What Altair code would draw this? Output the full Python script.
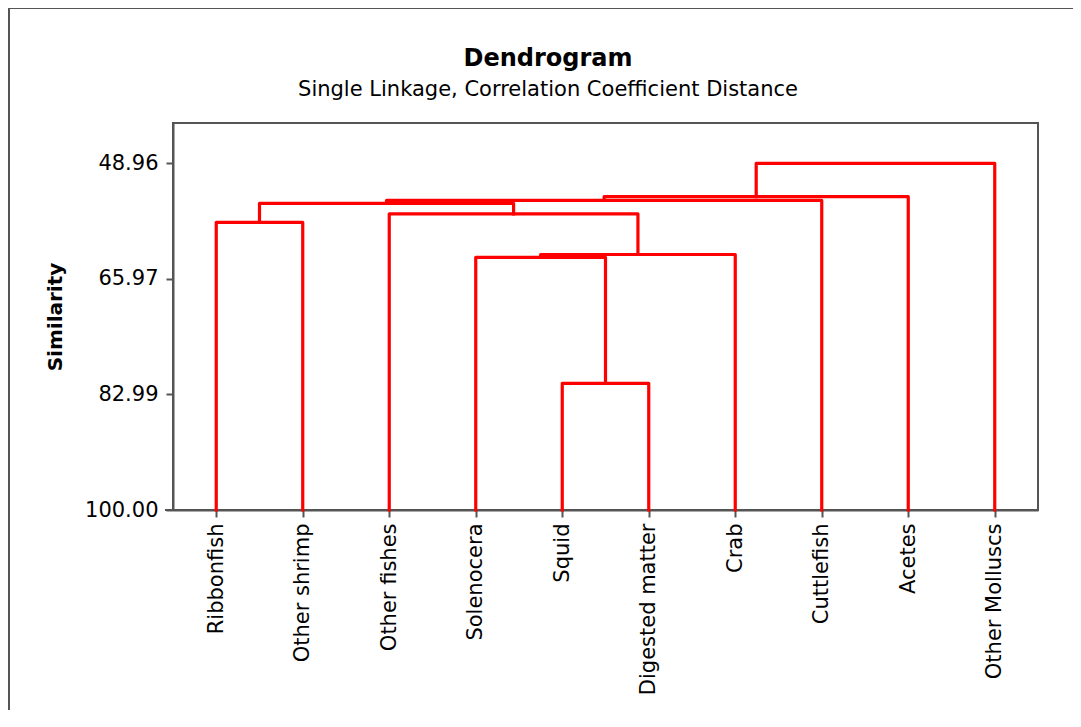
import json
import altair as alt
import pandas as pd

# ---- data ----
leaves = ["Ribbonfish", "Other shrimp", "Other fishes", "Solenocera", "Squid",
          "Digested matter", "Crab", "Cuttlefish", "Acetes", "Other Molluscs"]
# merges: new cluster ids start at 10, in this order
merge_left = [4, 3, 11, 0, 2, 13, 15, 16, 17]
merge_right = [5, 10, 6, 1, 12, 14, 7, 8, 9]
merge_sim = [81.35, 62.80, 62.39, 57.65, 56.42, 54.85, 54.43, 53.87, 48.96]
y_ticks = [48.96, 65.97, 82.99, 100.00]
title_text = "Dendrogram"
subtitle_text = "Single Linkage, Correlation Coefficient Distance"

# ---- build dendrogram path table ----
pos = {i: i + 0.5 for i in range(len(leaves))}
hgt = {i: 100.0 for i in range(len(leaves))}
rows = []
for k, (a, b, s) in enumerate(zip(merge_left, merge_right, merge_sim)):
    cid = len(leaves) + k
    pts = [(pos[a], hgt[a]), (pos[a], s), (pos[b], s), (pos[b], hgt[b])]
    for j, (x, y) in enumerate(pts):
        rows.append({"merge": k, "step": j, "x": x, "sim": y})
    pos[cid] = (pos[a] + pos[b]) / 2
    hgt[cid] = s
df = pd.DataFrame(rows)

W, H = 865, 387
FONT = "DejaVu Sans"
GRAY = "#555555"

label_expr = json.dumps(leaves) + "[floor(datum.value)]"

lines = alt.Chart(df).mark_line(
    color="#ff0000", strokeWidth=3.2, strokeJoin="round", strokeCap="square"
).encode(
    x=alt.X("x:Q", scale=alt.Scale(domain=[0, 10], nice=False, zero=False),
            axis=alt.Axis(values=[i + 0.5 for i in range(len(leaves))],
                          labelExpr=label_expr, labelAngle=270, title=None,
                          grid=False, tickSize=7, labelPadding=6,
                          labelFontSize=21, labelFont=FONT, labelColor="#000",
                          domainColor=GRAY, domainWidth=2, tickColor=GRAY,
                          tickWidth=2, labelOverlap=False)),
    y=alt.Y("sim:Q", scale=alt.Scale(domain=[43.03, 100], reverse=True, nice=False, zero=False),
            axis=alt.Axis(values=y_ticks, format=".2f", title="Similarity",
                          grid=False, tickSize=7, labelPadding=8,
                          labelFontSize=21, labelFont=FONT, labelColor="#000",
                          titleFont=FONT, titleFontSize=20, titleFontWeight="bold",
                          titleColor="#000", titleAngle=270, titleX=-118, titleY=193.5,
                          titleAlign="center", titleBaseline="middle",
                          domainColor=GRAY, domainWidth=2, tickColor=GRAY,
                          tickWidth=2, labelOverlap=False)),
    detail="merge:N",
    order=alt.Order("step:Q"),
)

one = pd.DataFrame({"a": [0]})
frame_left = alt.Chart(one).mark_rule(color=GRAY, strokeWidth=2, clip=False).encode(
    x=alt.value(-164), y=alt.value(-115), y2=alt.value(H + 200))
frame_top = alt.Chart(one).mark_rule(color=GRAY, strokeWidth=2, clip=False).encode(
    x=alt.value(-164), x2=alt.value(W + 60), y=alt.value(-115))
axis_ext = alt.Chart(one).mark_rule(color=GRAY, strokeWidth=2, clip=False).encode(
    x=alt.value(-8), x2=alt.value(0), y=alt.value(H))

title_mark = alt.Chart(pd.DataFrame({"t": [title_text]})).mark_text(
    font=FONT, fontSize=24, fontWeight="bold", color="#000",
    align="center", baseline="middle", clip=False
).encode(text="t:N", x=alt.value(375), y=alt.value(-64))
subtitle_mark = alt.Chart(pd.DataFrame({"t": [subtitle_text]})).mark_text(
    font=FONT, fontSize=21, color="#000",
    align="center", baseline="middle", clip=False
).encode(text="t:N", x=alt.value(375), y=alt.value(-33))

chart = alt.layer(frame_left, frame_top, axis_ext, title_mark, subtitle_mark, lines).properties(
    width=W, height=H,
    autosize=alt.AutoSizeParams(type="none"),
    padding={"left": 165, "top": 115, "right": 35, "bottom": 200},
).configure_view(stroke=GRAY, strokeWidth=2)

chart.save("out.html", embed_options={"renderer": "svg", "actions": False})
